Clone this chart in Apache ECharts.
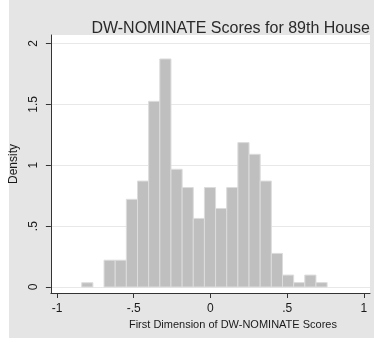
<!DOCTYPE html>
<html>
<head>
<meta charset="utf-8">
<script src="https://cdn.jsdelivr.net/npm/echarts@6/dist/echarts.min.js"></script>
<style>
  html, body { margin: 0; padding: 0; background: #fff; }
  #chart { width: 374px; height: 344px; }
</style>
</head>
<body>
<div id="chart"></div>
<script>
// Histogram of first-dimension DW-NOMINATE scores, 89th House
var chartTitle = 'DW-NOMINATE Scores for 89th House';
var xTitle = 'First Dimension of DW-NOMINATE Scores';
var yTitle = 'Density';

// Bins: lower edge of the first bin and common bin width
var binStart = -0.839;
var binWidth = 0.0727;
// Density of each bin, left to right
var densities = [0.035, 0, 0.22, 0.22, 0.72, 0.87, 1.525, 1.873, 0.967, 0.817, 0.563,
                 0.817, 0.645, 0.817, 1.186, 1.09, 0.87, 0.276, 0.098, 0.036, 0.098, 0.036];

// Axis ticks and their printed labels
var xTicks = [-1, -0.5, 0, 0.5, 1];
var xTickLabels = ['-1', '-.5', '0', '.5', '1'];
var yTicks = [0, 0.5, 1, 1.5, 2];
var yTickLabels = ['0', '.5', '1', '1.5', '2'];

var bins = densities.map(function (d, i) {
  var lo = binStart + i * binWidth;
  return [lo, lo + binWidth, d];
});

function labelFor(ticks, labels) {
  return function (v) {
    for (var i = 0; i < ticks.length; i++) {
      if (Math.abs(ticks[i] - v) < 1e-9) return labels[i];
    }
    return '';
  };
}

var font = '"Liberation Sans", Arial, Helvetica, sans-serif';
var chart = echarts.init(document.getElementById('chart'), null, { renderer: 'canvas' });

chart.setOption({
  animation: false,
  backgroundColor: '#ffffff',
  graphic: [{
    type: 'rect', z: -10, silent: true,
    shape: { x: 9, y: 0, width: 365, height: 338 },
    style: { fill: '#e5e5e5' }
  }],
  title: {
    text: chartTitle,
    right: -1, top: 16,
    textStyle: { fontFamily: font, fontSize: 16, fontWeight: 'normal', color: '#2a2a2a' }
  },
  grid: {
    left: 45, right: 4, top: 35, bottom: 51,
    show: true, backgroundColor: '#ffffff', borderWidth: 0
  },
  xAxis: {
    type: 'value', min: -1.04, max: 1.04,
    name: xTitle, nameLocation: 'middle', nameGap: 20,
    nameTextStyle: { fontFamily: font, fontSize: 11, color: '#1a1a1a', padding: [0, 0, 0, 45] },
    axisLine: { show: true, onZero: false, lineStyle: { color: '#333', width: 1 } },
    axisTick: { show: true, length: 5, customValues: xTicks, lineStyle: { color: '#333' } },
    axisLabel: { customValues: xTicks, margin: 10, fontFamily: font, fontSize: 12, color: '#1a1a1a',
                 formatter: labelFor(xTicks, xTickLabels) },
    splitLine: { show: false }
  },
  yAxis: {
    type: 'value', min: -0.0493, max: 2.0698,
    name: yTitle, nameLocation: 'middle', nameGap: 22, nameRotate: 90,
    nameTextStyle: { fontFamily: font, fontSize: 12, color: '#1a1a1a' },
    axisLine: { show: true, onZero: false, lineStyle: { color: '#333', width: 1 } },
    axisTick: { show: true, length: 5, customValues: yTicks, lineStyle: { color: '#333' } },
    axisLabel: { customValues: yTicks, rotate: 90, margin: 11, fontFamily: font, fontSize: 12, color: '#1a1a1a',
                 formatter: labelFor(yTicks, yTickLabels) },
    splitLine: { show: true, lineStyle: { color: '#e8e8e8', width: 1 } }
  },
  series: [{
    type: 'custom',
    data: bins,
    encode: { x: [0, 1], y: 2 },
    renderItem: function (params, api) {
      var h = api.value(2);
      if (!h) return null;
      var p0 = api.coord([api.value(0), h]);
      var p1 = api.coord([api.value(1), 0]);
      return {
        type: 'rect',
        shape: { x: p0[0], y: p0[1], width: p1[0] - p0[0], height: p1[1] - p0[1] },
        style: { fill: '#bfbfbf', stroke: '#dcdcdc', lineWidth: 1 }
      };
    }
  }]
});
</script>
</body>
</html>
